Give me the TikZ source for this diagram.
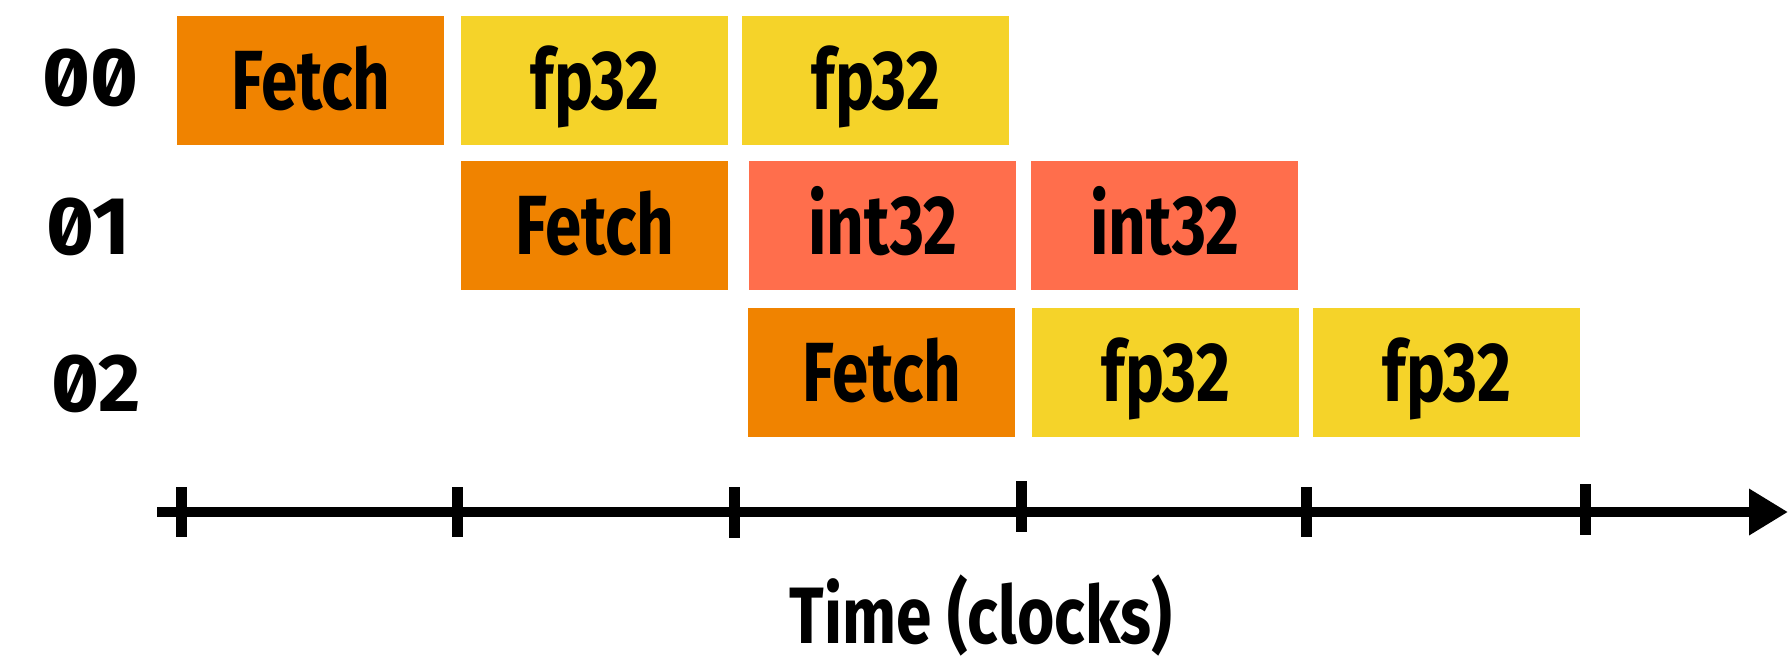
\documentclass[tikz,border=0pt]{standalone}
\usepackage{fontspec}
\usetikzlibrary{arrows.meta}
\newfontfamily\boxfont[FakeStretch=0.78]{Fira Sans Bold}
\newfontfamily\titlefont[FakeStretch=0.80]{Fira Sans Bold}
\newfontfamily\monofont[Numbers=SlashedZero]{Fira Sans Bold}
\definecolor{fetchc}{HTML}{F08300}
\definecolor{fpc}{HTML}{F5D329}
\definecolor{intc}{HTML}{FF6E4C}
\tikzset{
  stagebox/.style={anchor=north west, minimum width=133.5pt, minimum height=64.5pt,
    inner sep=0pt, text height=29pt, text depth=0pt, font=\boxfont\fontsize{42}{42}\selectfont},
  fetchbox/.style={stagebox, fill=fetchc},
  fpbox/.style={stagebox, fill=fpc},
  intbox/.style={stagebox, fill=intc},
  rowlabel/.style={anchor=base west, inner sep=0pt, font=\monofont\fontsize{41}{41}\selectfont},
  axisline/.style={line width=5pt, -{Triangle[length=19.5pt, width=22pt]}},
  tickline/.style={line width=5.5pt}
}
\begin{document}
\begin{tikzpicture}[x=0.5pt,y=-0.5pt]
\useasboundingbox (0,0) rectangle (1788,661);
% row labels
\node[rowlabel] (l0) at (42,105) {00};
\node[rowlabel] (l1) at (46,254) {01};
\node[rowlabel] (l2) at (51,411) {02};
% row 0
\node[fetchbox] (a0) at (177,16) {Fetch};
\node[fpbox] (a1) at (461,16) {fp32};
\node[fpbox] (a2) at (742,16) {fp32};
% row 1
\node[fetchbox] (b0) at (461,161) {Fetch};
\node[intbox] (b1) at (749,161) {int32};
\node[intbox] (b2) at (1031,161) {int32};
% row 2
\node[fetchbox] (c0) at (748,308) {Fetch};
\node[fpbox] (c1) at (1032,308) {fp32};
\node[fpbox] (c2) at (1313,308) {fp32};
% axis
\coordinate (axL) at (157,512);
\coordinate (axR) at (1788,512);
\draw[axisline] (axL) -- (axR);
\coordinate (t1a) at (181,487); \coordinate (t1b) at (181,537);
\coordinate (t2a) at (457,487); \coordinate (t2b) at (457,537);
\coordinate (t3a) at (734,487); \coordinate (t3b) at (734,538);
\coordinate (t4a) at (1021,481); \coordinate (t4b) at (1021,532);
\coordinate (t5a) at (1306,487); \coordinate (t5b) at (1306,537);
\coordinate (t6a) at (1585,484); \coordinate (t6b) at (1585,535);
\foreach \i in {1,...,6} {\draw[tickline] (t\i a) -- (t\i b);}
% axis title
\node[anchor=base, inner sep=0pt, font=\titlefont\fontsize{40}{40}\selectfont] (title) at (981,643) {Time (clocks)};
\end{tikzpicture}
\end{document}
